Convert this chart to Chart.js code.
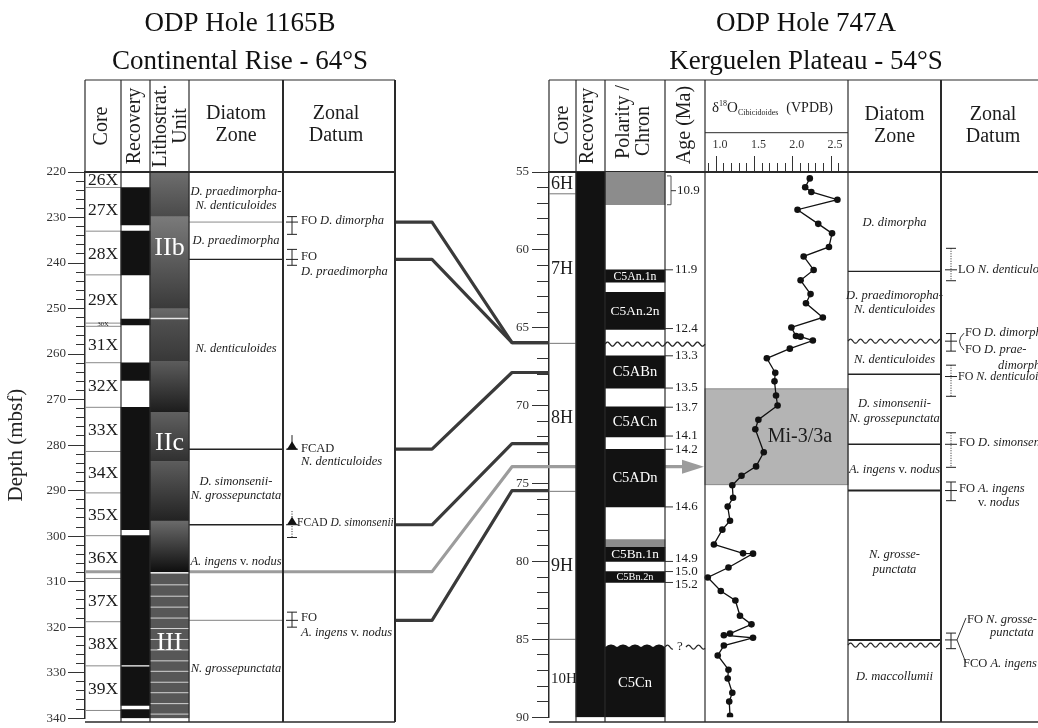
<!DOCTYPE html>
<html>
<head>
<meta charset="utf-8">
<script src="https://cdn.jsdelivr.net/npm/chart.js@4.4.1/dist/chart.umd.min.js"></script>
<style>
  html, body { margin: 0; padding: 0; background: #fff; overflow: hidden; width: 1038px; height: 728px; }
  canvas { position: absolute; left: 0; top: 0; }
</style>
</head>
<body>
<canvas id="hole1165" width="1038" height="728"></canvas>
<canvas id="hole747" width="1075" height="728"></canvas>
<script>
// ---------- ODP Hole 1165B (Continental Rise), depth in mbsf ----------
const coreNamesL = ['26X', '27X', '28X', '29X', '30X', '31X', '32X', '33X', '34X', '35X', '36X', '37X', '38X', '39X'];
const coreTopsL = [220, 223.4, 233.0, 242.6, 253.2, 253.9, 261.9, 271.7, 281.4, 290.5, 299.9, 309.3, 318.8, 328.5];
const coreBotsL = [223.4, 233.0, 242.6, 253.2, 253.9, 261.9, 271.7, 281.4, 290.5, 299.9, 309.3, 318.8, 328.5, 338.3];
const recTopsL = [223.4, 233.0, 252.3, 261.9, 271.7, 299.9, 328.7, 338.1];
const recBotsL = [231.6, 242.6, 253.6, 265.8, 298.6, 328.3, 337.2, 340];
const lithTopsL = [220, 229.8, 250.0, 252.3, 261.6, 272.8, 283.6, 296.7, 308.2];
const lithBotsL = [229.8, 250.0, 252.1, 261.6, 272.8, 283.6, 296.7, 307.9, 340];
const lithUnitsL = ['IIb', 'IIc', 'III'];
const lithUnitDepthsL = [236.8, 279.6, 323.6];
const lithBedsIII = [310.7, 313.2, 315.6, 318.0, 320.3, 322.7, 325.0, 327.4, 329.7, 332.1, 334.4, 336.8, 339.1];
const zoneNamesL = ['D. praedimorpha-|N. denticuloides', 'D. praedimorpha', 'N. denticuloides',
  'D. simonsenii-|N. grossepunctata', 'A. ingens v. nodus', 'N. grossepunctata'];
const zoneLabelDepthsL = [225.9, 235.0, 258.8, 289.6, 305.6, 329.2];
const zoneBoundsL = [231.0, 239.2, 280.9, 297.5, 307.8, 318.5];
const datumTypesL = ['FO', 'FO', 'FCAD', 'FCAD', 'FO'];
const datumTaxaL = ['D. dimorpha', 'D. praedimorpha', 'N. denticuloides', 'D. simonsenii', 'A. ingens v. nodus'];
const datumDepthsL = [231.0, 239.2, 280.9, 297.5, 318.5];
const datumErrTopL = [229.8, 237.0, 277.8, 294.5, 316.7];
const datumErrBotL = [233.7, 240.5, 280.9, 300.3, 320.0];

// ---------- ODP Hole 747A (Kerguelen Plateau), depth in mbsf ----------
const coreNamesR = ['6H', '7H', '8H', '9H', '10H'];
const coreTopsR = [55, 56.4, 66.0, 75.5, 85.0];
const coreBotsR = [56.4, 66.0, 75.5, 85.0, 90];
const recTopsR = [55];
const recBotsR = [90];
const chronNames = ['', 'C5An.1n', 'C5An.2n', 'C5ABn', 'C5ACn', 'C5ADn', '', 'C5Bn.1n', 'C5Bn.2n', 'C5Cn'];
const chronTops = [55, 61.28, 62.72, 66.8, 70.08, 72.8, 78.6, 79.1, 80.65, 85.6];
const chronBots = [57.1, 62.08, 65.1, 68.87, 72.0, 76.5, 79.1, 80.0, 81.35, 90];
const chronCertain = [false, true, true, true, true, true, false, true, true, true];
const ageLabels = ['10.9', '11.9', '12.4', '13.3', '13.5', '13.7', '14.1', '14.2', '14.6', '14.9', '15.0', '15.2'];
const ageDepths = [56.2, 61.28, 65.05, 66.8, 68.87, 70.1, 71.95, 72.8, 76.5, 80.0, 80.65, 81.35];
const hiatusR = [66.05, 85.5];
const isoDepths = [55.41, 55.98, 56.28, 56.78, 57.42, 58.33, 58.94, 59.81, 60.42, 61.29,
  61.95, 62.84, 63.43, 64.34, 64.98, 65.53, 65.57, 65.82, 66.34, 66.96,
  67.89, 68.44, 69.35, 69.99, 70.90, 71.51, 72.99, 73.90, 74.50, 75.11,
  75.91, 76.48, 77.39, 77.96, 78.91, 79.48, 79.50, 80.39, 81.03, 81.90,
  82.51, 83.49, 84.04, 84.63, 84.74, 84.90, 85.40, 86.04, 86.95, 87.52,
  88.43, 89.00, 89.91];
const isoValues = [2.17, 2.11, 2.19, 2.53, 2.01, 2.28, 2.46, 2.42, 2.09, 2.22,
  2.05, 2.18, 2.12, 2.34, 1.93, 1.99, 2.05, 2.21, 1.91, 1.61,
  1.72, 1.71, 1.73, 1.75, 1.50, 1.46, 1.57, 1.47, 1.28, 1.16,
  1.17, 1.10, 1.13, 1.03, 0.92, 1.30, 1.43, 1.11, 0.84, 1.01,
  1.20, 1.26, 1.41, 1.13, 1.05, 1.43, 1.05, 0.97, 1.11, 1.10,
  1.16, 1.12, 1.13];
const isoTicks = ['1.0', '1.5', '2.0', '2.5'];
const miEvent = 'Mi-3/3a';
const miRange = [68.92, 75.07];
const zoneNamesR = ['D. dimorpha', 'D. praedimoropha-|N. denticuloides', 'N. denticuloides',
  'D. simonsenii-|N. grossepunctata', 'A. ingens v. nodus', 'N. grosse-|punctata', 'D. maccollumii'];
const zoneLabelDepthsR = [58.27, 63.4, 67.07, 70.35, 74.1, 80.05, 87.43];
const zoneBoundsR = [61.38, 67.98, 72.48, 75.45, 85.04];
const zoneHiatusR = [65.86, 85.37];
const datumNamesR = ['LO N. denticuloides', 'FO D. dimorpha', 'FO D. praedimorpha', 'FO N. denticuloides',
  'FO D. simonsenii', 'FO A. ingens v. nodus', 'FO N. grossepunctata', 'FCO A. ingens'];
const datumDepthsR = [61.28, 65.86, 65.86, 68.13, 72.48, 75.45, 85.04, 85.04];
const datumErrTopR = [59.9, 65.37, 65.37, 67.4, 71.74, 74.9, 84.6, 84.6];
const datumErrBotR = [61.98, 66.5, 66.5, 69.4, 73.96, 76.1, 85.6, 85.6];

// ---------- correlation ties between the holes ----------
const tieFromL = [231.0, 239.2, 280.9, 297.5, 307.8, 318.5];
const tieToR = [65.95, 65.95, 67.87, 72.44, 73.92, 75.45];
const tieKind = ['datum', 'datum', 'datum', 'datum', 'isotope', 'datum'];

// ---------- layout ----------
const SERIF = "'Liberation Serif', 'Times New Roman', serif";
const INK = '#1c1c1c';
const HEAD_TOP = 80, AREA_TOP = 172, AREA_BOT = 722;
const colL = { core: [85, 121], rec: [121, 150], lith: [150, 189], zone: [189, 283], datum: [283, 395] };
const colR = { core: [549, 576], rec: [576, 605], pol: [605, 665], age: [665, 705], iso: [705, 848], zone: [848, 941], datum: [941, 1063] };
const ISO_EDGE_VAL = [0.804, 2.668];   // δ18O values at the column edges
const isoPerPx = (ISO_EDGE_VAL[1] - ISO_EDGE_VAL[0]) / (colR.iso[1] - colR.iso[0]);
const isoMin = ISO_EDGE_VAL[0] - (colR.iso[0] - colR.core[0]) * isoPerPx;
const isoMax = ISO_EDGE_VAL[1] + (colR.datum[1] - colR.iso[1]) * isoPerPx;

Chart.defaults.font.family = SERIF;
Chart.defaults.color = INK;
Chart.defaults.animation = false;
Chart.defaults.events = [];
Chart.defaults.plugins.legend.display = false;
Chart.defaults.plugins.tooltip.enabled = false;

const lithShade = [['#6e6e6e', '#4a4a4a'], ['#7a7a7a', '#3a3a3a'], ['#6a6a6a', '#5e5e5e'], ['#505050', '#383838'],
  ['#5c5c5c', '#1c1c1c'], ['#606060', '#303030'], ['#5c5c5c', '#222'], ['#6a6a6a', '#0e0e0e'], ['#575757', '#575757']];

function mid(c) { return (c[0] + c[1]) / 2; }
function fnt(size, italic) { return (italic ? 'italic ' : '') + size + 'px ' + SERIF; }

function hline(ctx, x0, x1, y, color, w) {
  ctx.save(); ctx.strokeStyle = color; ctx.lineWidth = w;
  ctx.beginPath(); ctx.moveTo(x0, y); ctx.lineTo(x1, y); ctx.stroke(); ctx.restore();
}
function vline(ctx, x, y0, y1, color, w) {
  ctx.save(); ctx.strokeStyle = color; ctx.lineWidth = w;
  ctx.beginPath(); ctx.moveTo(x, y0); ctx.lineTo(x, y1); ctx.stroke(); ctx.restore();
}
function wavy(ctx, x0, x1, y, color, w) {
  ctx.save(); ctx.strokeStyle = color; ctx.lineWidth = w; ctx.beginPath();
  for (let x = x0; x <= x1; x += 0.5) {
    const yy = y - 2 * Math.sin((x - x0) / 10 * 2 * Math.PI);
    if (x === x0) ctx.moveTo(x, yy); else ctx.lineTo(x, yy);
  }
  ctx.stroke(); ctx.restore();
}
function scallopTop(ctx, x0, x1, y, color) {
  ctx.save(); ctx.fillStyle = color; ctx.beginPath(); ctx.moveTo(x0, y + 4);
  for (let x = x0; x <= x1; x += 0.5) ctx.lineTo(x, y - 2.5 * Math.abs(Math.sin((x - x0) / 12 * Math.PI)));
  ctx.lineTo(x1, y + 4); ctx.closePath(); ctx.fill(); ctx.restore();
}
function label(ctx, s, x, y, size, align, color, italic) {
  ctx.save(); ctx.font = fnt(size, italic); ctx.fillStyle = color || INK;
  ctx.textAlign = align || 'left'; ctx.textBaseline = 'middle'; ctx.fillText(s, x, y); ctx.restore();
}
function rotLabel(ctx, s, x, y, size) {
  ctx.save(); ctx.translate(x, y); ctx.rotate(-Math.PI / 2);
  ctx.font = fnt(size); ctx.fillStyle = INK; ctx.textAlign = 'center'; ctx.textBaseline = 'middle';
  ctx.fillText(s, 0, 0); ctx.restore();
}
// mixed upright / italic text, parts = [[text, italic], ...]
function rich(ctx, parts, x, y, size, align) {
  ctx.save(); ctx.fillStyle = INK; ctx.textBaseline = 'middle'; ctx.textAlign = 'left';
  let w = 0;
  parts.forEach(p => { ctx.font = fnt(size, p[1]); w += ctx.measureText(p[0]).width; });
  let cx = align === 'center' ? x - w / 2 : (align === 'right' ? x - w : x);
  parts.forEach(p => { ctx.font = fnt(size, p[1]); ctx.fillText(p[0], cx, y); cx += ctx.measureText(p[0]).width; });
  ctx.restore();
}
function taxon(s) {
  const k = s.indexOf(' v. ');
  return k < 0 ? [[s, true]] : [[s.slice(0, k), true], [' v. ', false], [s.slice(k + 4), true]];
}
function datumText(s) {
  const k = s.indexOf(' ');
  return [[s.slice(0, k + 1), false]].concat(taxon(s.slice(k + 1)));
}
function errBar(ctx, x, yt, yb, ym, dotted, tri) {
  ctx.save(); ctx.strokeStyle = '#222'; ctx.lineWidth = 1;
  if (dotted) ctx.setLineDash([1, 1.5]);
  ctx.beginPath(); ctx.moveTo(x, yt); ctx.lineTo(x, yb); ctx.stroke();
  ctx.setLineDash([]);
  ctx.beginPath();
  if (!tri) { ctx.moveTo(x - 5, yt); ctx.lineTo(x + 5, yt); }
  ctx.moveTo(x - 5, yb); ctx.lineTo(x + 5, yb);
  ctx.moveTo(x - 6, ym); ctx.lineTo(x + 6, ym);
  ctx.stroke();
  if (tri) {
    ctx.fillStyle = '#111'; ctx.beginPath();
    ctx.moveTo(x, ym - 8); ctx.lineTo(x - 5, ym); ctx.lineTo(x + 5, ym); ctx.closePath(); ctx.fill();
  }
  ctx.restore();
}
function depthTicks(major, minorDash) {
  return {
    drawOnChartArea: false, tickLength: 17, tickColor: '#333', tickWidth: 1,
    tickBorderDash: c => (c.tick && c.tick.value % major === 0) ? [] : minorDash
  };
}
function lithFill(c) {
  const i = c.dataIndex;
  if (c.type !== 'data' || !c.chart.scales || !c.chart.scales.y) return '#555';
  const y = c.chart.scales.y;
  const y0 = y.getPixelForValue(lithTopsL[i]), y1 = y.getPixelForValue(lithBotsL[i]);
  if (!isFinite(y0) || !isFinite(y1) || y0 === y1) return lithShade[i][0];
  const g = c.chart.ctx.createLinearGradient(0, y0, 0, y1);
  g.addColorStop(0, lithShade[i][0]); g.addColorStop(1, lithShade[i][1]);
  return g;
}

// ---------- left hole ----------
const leftDecor = {
  id: 'leftDecor',
  beforeDatasetsDraw(chart) {
    const ctx = chart.ctx, Y = v => chart.scales.y.getPixelForValue(v);
    coreBotsL.forEach(d => { if (d < 340) hline(ctx, colL.core[0], colL.core[1], Y(d), '#8a8a8a', 1); });
    const zStyle = [['#8a8a8a', 1], ['#222', 1.4], ['#222', 1.6], ['#222', 1.4], null, ['#9a9a9a', 1.2]];
    zoneBoundsL.forEach((d, i) => { if (zStyle[i]) hline(ctx, colL.zone[0], colL.zone[1], Y(d), zStyle[i][0], zStyle[i][1]); });
    tieFromL.forEach((d, i) => { if (tieKind[i] === 'isotope') hline(ctx, colL.core[0], colL.datum[1], Y(d), '#9c9c9c', 3); });
  },
  afterDatasetsDraw(chart) {
    const ctx = chart.ctx, Y = v => chart.scales.y.getPixelForValue(v);
    // lithostratigraphy
    lithBedsIII.forEach(d => hline(ctx, colL.lith[0], colL.lith[1], Y(d), 'rgba(225,225,225,0.9)', 1));
    for (let i = 0; i < lithTopsL.length - 1; i++) {
      if (lithBotsL[i] < lithTopsL[i + 1]) hline(ctx, colL.lith[0], colL.lith[1], Y((lithBotsL[i] + lithTopsL[i + 1]) / 2), '#e6e6e6', 1.5);
    }
    lithUnitsL.forEach((u, i) => label(ctx, u, mid(colL.lith), Y(lithUnitDepthsL[i]), 26, 'center', '#fff'));
    // cores
    coreNamesL.forEach((n, i) => {
      const y0 = Y(coreTopsL[i]), y1 = Y(coreBotsL[i]);
      if (y1 - y0 < 8) label(ctx, n, mid(colL.core), (y0 + y1) / 2, 6.5, 'center');
      else label(ctx, n, colL.core[0] + 3, (y0 + y1) / 2 + 1, 17.5, 'left');
    });
    // diatom zones
    zoneNamesL.forEach((z, i) => {
      const lines = z.split('|');
      lines.forEach((t, j) => rich(ctx, taxon(t), mid(colL.zone), Y(zoneLabelDepthsL[i]) + (j - (lines.length - 1) / 2) * 14, 12.5, 'center'));
    });
    // zonal datums
    const wrapL = [false, true, true, false, true];
    datumDepthsL.forEach((d, i) => {
      const ym = Y(d), fcad = datumTypesL[i] === 'FCAD';
      errBar(ctx, 292, Y(datumErrTopL[i]), Y(datumErrBotL[i]), ym, i === 3, fcad);
      if (wrapL[i]) {
        rich(ctx, [[datumTypesL[i], false]], 301, ym + (fcad ? 0 : -3), 12.5);
        rich(ctx, taxon(datumTaxaL[i]), 301, ym + (fcad ? 13 : 12.5), 12.5);
      } else {
        rich(ctx, [[datumTypesL[i] + ' ', false]].concat(taxon(datumTaxaL[i])), fcad ? 297 : 301, ym - 1.5, fcad ? 11.5 : 12.5);
      }
    });
    // header
    rotLabel(ctx, 'Core', 102, 126, 20);
    rotLabel(ctx, 'Recovery', 135, 126, 20);
    rotLabel(ctx, 'Lithostrat.', 161, 126, 20);
    rotLabel(ctx, 'Unit', 181, 126, 20);
    label(ctx, 'Diatom', mid(colL.zone), 114, 20, 'center');
    label(ctx, 'Zone', mid(colL.zone), 136, 20, 'center');
    label(ctx, 'Zonal', 336, 114, 20, 'center');
    label(ctx, 'Datum', 336, 136, 20, 'center');
    // frame
    const ink = '#2a2a2a';
    hline(ctx, colL.core[0], colL.datum[1], HEAD_TOP, ink, 1.2);
    hline(ctx, colL.core[0], colL.datum[1], AREA_TOP, ink, 2);
    hline(ctx, colL.core[0], colL.datum[1], AREA_BOT, ink, 1.5);
    vline(ctx, colL.core[0], HEAD_TOP, AREA_TOP, ink, 1.2);
    [colL.rec[0], colL.lith[0], colL.zone[0]].forEach(x => vline(ctx, x, HEAD_TOP, AREA_BOT, ink, 1.2));
    vline(ctx, colL.datum[0], HEAD_TOP, AREA_BOT, ink, 2);
    vline(ctx, colL.datum[1], HEAD_TOP, AREA_BOT, ink, 2);
  }
};

const leftChart = new Chart(document.getElementById('hole1165'), {
  type: 'bar',
  data: {
    datasets: [
      {
        label: 'Recovery',
        data: recTopsL.map((t, i) => ({ x: mid(colL.rec), y: [t, recBotsL[i]] })),
        grouped: false, barThickness: colL.rec[1] - colL.rec[0], backgroundColor: '#121212'
      },
      {
        label: 'Lithostratigraphic unit',
        data: lithTopsL.map((t, i) => ({ x: mid(colL.lith), y: [t, lithBotsL[i]] })),
        grouped: false, barThickness: colL.lith[1] - colL.lith[0],
        backgroundColor: lithFill
      }
    ]
  },
  options: {
    responsive: false,
    layout: { padding: { left: 0, right: 1038 - colL.datum[1], top: 0, bottom: 728 - AREA_BOT } },
    plugins: {
      title: {
        display: true, fullSize: false, text: ['ODP Hole 1165B', 'Continental Rise - 64°S'],
        color: '#111', font: { size: 27, weight: 'normal', lineHeight: 1.44 },
        padding: { top: 4, bottom: AREA_TOP - 4 - 2 * 27 * 1.44 }
      }
    },
    scales: {
      x: { type: 'linear', min: colL.core[0], max: colL.datum[1], offset: false, display: false },
      y: {
        type: 'linear', reverse: true, min: 220, max: 340, offset: false,
        afterFit(s) { s.width = colL.core[0]; },
        border: { display: true, color: '#2a2a2a', width: 1.5 },
        grid: depthTicks(10, [0, 8, 40]),
        ticks: { stepSize: 2, autoSkip: false, padding: 2, color: '#333', font: { size: 13 }, callback: v => v % 10 === 0 ? String(v) : '' },
        title: { display: true, text: 'Depth (mbsf)', color: '#222', font: { size: 21 }, padding: { top: 4, bottom: 0 } }
      }
    }
  },
  plugins: [leftDecor]
});
// redraw once layout is known so the gradient bars pick up real pixel positions
leftChart.update();

// ---------- right hole ----------
const rightDecor = {
  id: 'rightDecor',
  beforeDatasetsDraw(chart) {
    const ctx = chart.ctx, Y = v => chart.scales.y.getPixelForValue(v);
    const YL = v => leftChart.scales.y.getPixelForValue(v);
    // isotope event box
    const y0 = Y(miRange[0]), y1 = Y(miRange[1]);
    ctx.save();
    ctx.fillStyle = '#b4b4b4'; ctx.fillRect(colR.iso[0], y0, colR.iso[1] - colR.iso[0], y1 - y0);
    ctx.strokeStyle = '#8a8a8a'; ctx.lineWidth = 1; ctx.strokeRect(colR.iso[0], y0, colR.iso[1] - colR.iso[0], y1 - y0);
    ctx.restore();
    label(ctx, miEvent, 800, (y0 + y1) / 2, 20, 'center');
    // correlation ties
    tieFromL.forEach((d, i) => {
      const ya = YL(d), yb = Y(tieToR[i]), iso = tieKind[i] === 'isotope';
      ctx.save();
      ctx.strokeStyle = iso ? '#9c9c9c' : '#3a3a3a'; ctx.lineWidth = 3.2; ctx.lineJoin = 'round';
      ctx.beginPath(); ctx.moveTo(colL.datum[1] + 1, ya); ctx.lineTo(432, ya); ctx.lineTo(512, yb);
      ctx.lineTo(iso ? colR.age[1] - 22 : colR.core[0], yb); ctx.stroke();
      if (iso) {
        ctx.fillStyle = '#9c9c9c'; ctx.beginPath();
        ctx.moveTo(colR.age[1] - 23, yb - 7); ctx.lineTo(colR.age[1] - 1, yb); ctx.lineTo(colR.age[1] - 23, yb + 7);
        ctx.closePath(); ctx.fill();
      }
      ctx.restore();
    });
  },
  afterDatasetsDraw(chart) {
    const ctx = chart.ctx, Y = v => chart.scales.y.getPixelForValue(v);
    // cores
    coreBotsR.forEach(d => { if (d < 90) hline(ctx, colR.core[0], colR.core[1], Y(d), '#777', 1); });
    coreNamesR.forEach((n, i) => label(ctx, n, colR.core[0] + 2, (Y(coreTopsR[i]) + Y(coreBotsR[i])) / 2 + 1, n.length > 2 ? 15 : 18, 'left'));
    // polarity chron names
    chronNames.forEach((n, i) => {
      if (!n) return;
      const y0 = Y(chronTops[i]), y1 = Y(chronBots[i]);
      let s = Math.min(14.5, (y1 - y0) * 0.95);
      ctx.font = fnt(s); const w = ctx.measureText(n).width;
      if (w > 49) s *= 49 / w;
      label(ctx, n, mid(colR.pol), (y0 + y1) / 2 + 0.5, s, 'center', '#fff');
    });
    // hiatuses
    const yh0 = Y(hiatusR[0]), yh1 = Y(hiatusR[1]);
    wavy(ctx, colR.pol[0], colR.age[1], yh0, '#222', 1.3);
    scallopTop(ctx, colR.pol[0], colR.pol[1], yh1, '#121212');
    wavy(ctx, colR.age[0], colR.age[0] + 8, yh1, '#222', 1.2);
    label(ctx, '?', colR.age[0] + 15, yh1 - 1, 13, 'center');
    wavy(ctx, colR.age[0] + 21, colR.age[1], yh1, '#222', 1.2);
    // ages
    const shift = { 9: -3, 11: 2 };
    ageDepths.forEach((d, i) => {
      const yy = Y(d);
      if (i === 0) {
        const b0 = Y(chronTops[0] + 0.25), b1 = Y(chronBots[0]);
        ctx.save(); ctx.strokeStyle = '#555'; ctx.lineWidth = 1; ctx.beginPath();
        ctx.moveTo(colR.age[0] + 2, b0); ctx.lineTo(colR.age[0] + 6, b0); ctx.lineTo(colR.age[0] + 6, b1); ctx.lineTo(colR.age[0] + 2, b1);
        ctx.stroke(); ctx.restore();
        hline(ctx, colR.age[0] + 6, colR.age[0] + 11, yy, '#333', 1);
        label(ctx, ageLabels[i], colR.age[0] + 12, yy, 13, 'left');
      } else {
        hline(ctx, colR.age[0], colR.age[0] + 8, yy, '#333', 1);
        label(ctx, ageLabels[i], colR.age[0] + 10, yy + (shift[i] || 0), 13, 'left');
      }
    });
    // diatom zones
    zoneBoundsR.forEach((d, i) => hline(ctx, colR.zone[0], colR.zone[1], Y(d), '#222', i === 3 || i === 4 ? 2 : 1.4));
    zoneHiatusR.forEach(d => wavy(ctx, colR.zone[0], colR.zone[1], Y(d), '#222', 1.2));
    zoneNamesR.forEach((z, i) => {
      const lines = z.split('|');
      lines.forEach((t, j) => rich(ctx, taxon(t), mid(colR.zone), Y(zoneLabelDepthsR[i]) + (j - (lines.length - 1) / 2) * 14.5, 12.5, 'center'));
    });
    // zonal datums
    const sx = 951, dotted = [true, false, false, true, true, false, false, false];
    datumDepthsR.forEach((d, i) => {
      if (i === 2 || i === 7) return;   // paired with the previous datum on one bar
      errBar(ctx, sx, Y(datumErrTopR[i]), Y(datumErrBotR[i]), Y(d), dotted[i], false);
    });
    let ym = Y(datumDepthsR[0]);
    rich(ctx, datumText(datumNamesR[0]), 958, ym, 12.5);
    ym = Y(datumDepthsR[1]);
    rich(ctx, datumText(datumNamesR[1]), 965, ym - 8, 12.5);
    rich(ctx, [['FO ', false], ['D. prae-', true]], 965, ym + 9, 12.5);
    rich(ctx, [['dimorpha', true]], 998, ym + 25, 12.5);
    ctx.save(); ctx.strokeStyle = '#333'; ctx.lineWidth = 1; ctx.beginPath();
    ctx.moveTo(964, ym - 8); ctx.quadraticCurveTo(955, ym, 964, ym + 9); ctx.stroke(); ctx.restore();
    rich(ctx, datumText(datumNamesR[3]), 958, Y(datumDepthsR[3]), 12);
    rich(ctx, datumText(datumNamesR[4]), 959, Y(datumDepthsR[4]) - 2, 12.5);
    ym = Y(datumDepthsR[5]);
    rich(ctx, [['FO ', false], ['A. ingens', true]], 959, ym - 2, 12.5);
    rich(ctx, [['v. ', false], ['nodus', true]], 978, ym + 12.5, 12.5);
    ym = Y(datumDepthsR[6]);
    rich(ctx, [['FO ', false], ['N. grosse-', true]], 967, ym - 20, 12.5);
    rich(ctx, [['punctata', true]], 990, ym - 7.5, 12.5);
    rich(ctx, datumText(datumNamesR[7]), 963, ym + 24, 12.5);
    ctx.save(); ctx.strokeStyle = '#333'; ctx.lineWidth = 1; ctx.beginPath();
    ctx.moveTo(966, ym - 22); ctx.lineTo(957, ym); ctx.lineTo(966, ym + 23); ctx.stroke(); ctx.restore();
    // header
    rotLabel(ctx, 'Core', 563, 125, 20);
    rotLabel(ctx, 'Recovery', 588, 126, 20);
    rotLabel(ctx, 'Polarity /', 624, 122, 20);
    rotLabel(ctx, 'Chron', 644, 131, 20);
    rotLabel(ctx, 'Age (Ma)', 685, 125, 20);
    label(ctx, 'Diatom', mid(colR.zone), 115, 20, 'center');
    label(ctx, 'Zone', mid(colR.zone), 137, 20, 'center');
    label(ctx, 'Zonal', 993, 115, 20, 'center');
    label(ctx, 'Datum', 993, 137, 20, 'center');
    ctx.save(); ctx.fillStyle = INK; ctx.textAlign = 'left'; ctx.textBaseline = 'alphabetic';
    let hx = 712;
    [['δ', 15, 0], ['18', 8, -6], ['O', 15, 0], ['Cibicidoides', 8, 3]].forEach(p => {
      ctx.font = fnt(p[1]); ctx.fillText(p[0], hx, 112 + p[2]); hx += ctx.measureText(p[0]).width;
    });
    ctx.font = fnt(14); ctx.fillText('(VPDB)', hx + 8, 112);
    ctx.restore();
    // frame
    const ink = '#2a2a2a';
    hline(ctx, colR.core[0], colR.datum[1], HEAD_TOP, ink, 1.2);
    hline(ctx, colR.core[0], colR.datum[1], AREA_BOT, ink, 1.5);
    hline(ctx, colR.iso[0], colR.iso[1], 132.7, ink, 1);
    vline(ctx, colR.core[0], HEAD_TOP, AREA_TOP, ink, 1.2);
    [colR.rec[0], colR.pol[0], colR.age[0], colR.iso[0], colR.zone[0]].forEach(x => vline(ctx, x, HEAD_TOP, AREA_BOT, ink, 1.2));
    vline(ctx, colR.datum[0], HEAD_TOP, AREA_BOT, ink, 2);
  }
};

new Chart(document.getElementById('hole747'), {
  type: 'bar',
  data: {
    datasets: [
      {
        type: 'line', label: 'δ18O Cibicidoides',
        data: isoDepths.map((d, i) => ({ x: isoValues[i], y: d })),
        xAxisID: 'xd', yAxisID: 'y',
        borderColor: '#111', borderWidth: 1.3, tension: 0,
        pointRadius: 3.3, pointBackgroundColor: '#111', pointBorderWidth: 0
      },
      {
        label: 'Recovery',
        data: recTopsR.map((t, i) => ({ x: mid(colR.rec), y: [t, recBotsR[i]] })),
        xAxisID: 'x', yAxisID: 'y', grouped: false, barThickness: colR.rec[1] - colR.rec[0], backgroundColor: '#121212'
      },
      {
        label: 'Polarity',
        data: chronTops.map((t, i) => ({ x: mid(colR.pol), y: [t, chronBots[i]] })),
        xAxisID: 'x', yAxisID: 'y', grouped: false, barThickness: colR.pol[1] - colR.pol[0],
        backgroundColor: chronCertain.map(c => c ? '#121212' : '#8c8c8c')
      }
    ]
  },
  options: {
    responsive: false,
    layout: { padding: { left: 0, right: 1075 - colR.datum[1], top: 0, bottom: 728 - AREA_BOT } },
    plugins: {
      title: {
        display: true, fullSize: false, text: ['ODP Hole 747A', 'Kerguelen Plateau - 54°S'],
        color: '#111', font: { size: 27, weight: 'normal', lineHeight: 1.44 },
        padding: { top: 4, bottom: AREA_TOP - 60 - 4 - 2 * 27 * 1.44 }
      }
    },
    scales: {
      x: { type: 'linear', min: colR.core[0], max: colR.datum[1], offset: false, display: false },
      xd: {
        type: 'linear', position: 'top', min: isoMin, max: isoMax, offset: false,
        afterFit(s) { s.height = 60; },
        border: { display: true, color: '#2a2a2a', width: 2 },
        grid: {
          drawOnChartArea: false, tickLength: 16, tickWidth: 1,
          tickColor: c => (c.tick && c.tick.value > 0.85 && c.tick.value < 2.65) ? '#333' : 'rgba(0,0,0,0)',
          tickBorderDash: c => (c.tick && Math.abs(c.tick.value * 2 - Math.round(c.tick.value * 2)) < 1e-6) ? [] : [0, 7, 40]
        },
        ticks: {
          stepSize: 0.1, autoSkip: false, maxRotation: 0, minRotation: 0, padding: 4, color: '#333', font: { size: 12 },
          callback: v => { const s = Number(v).toFixed(1); return isoTicks.includes(s) ? s : ''; }
        }
      },
      y: {
        type: 'linear', reverse: true, min: 55, max: 90, offset: false,
        afterFit(s) { s.width = colR.core[0]; },
        border: { display: true, color: '#2a2a2a', width: 1.5 },
        grid: depthTicks(5, [0, 5, 40]),
        ticks: { stepSize: 1, autoSkip: false, padding: 3, color: '#333', font: { size: 13 }, callback: v => v % 5 === 0 ? String(v) : '' }
      }
    }
  },
  plugins: [rightDecor]
});
</script>
</body>
</html>
